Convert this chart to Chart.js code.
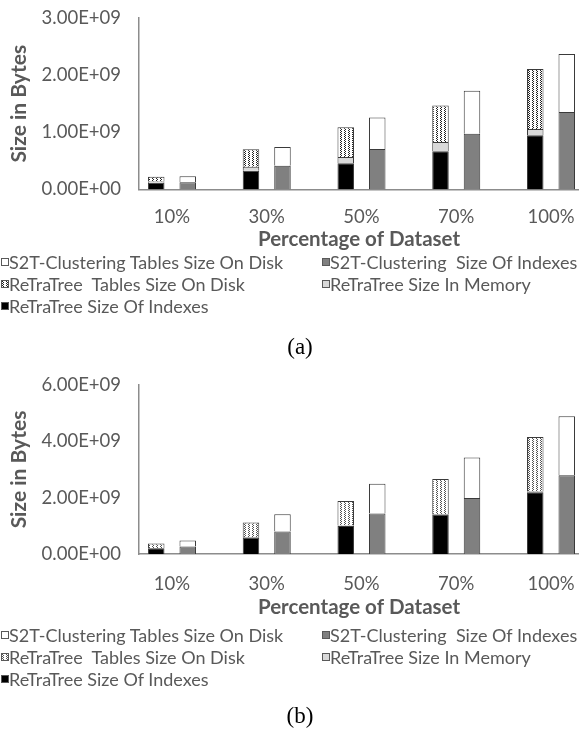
<!DOCTYPE html>
<html lang="en">
<head>
<meta charset="UTF-8">
<title>Size in Bytes</title>
<script src="https://cdn.jsdelivr.net/npm/chart.js"></script>
<style>
  body { margin: 0; background: #fff; }
  .page { position: relative; width: 579px; height: 735px; overflow: hidden; font-family: Lato, 'Open Sans', sans-serif; color: #595959; }
  canvas { position: absolute; left: 0; }
  .legend { position: absolute; left: 0; width: 579px; height: 70px; font-size: 18px; }
  .item { position: absolute; height: 22px; line-height: 22px; white-space: pre; }
  .box { position: absolute; left: 0; top: 7px; width: 6px; height: 6px; border: 1px solid #595959; }
  .txt { position: absolute; left: 8px; top: 0; }
  .caption { position: absolute; left: 0; width: 600px; text-align: center; font-family: 'Liberation Serif', 'DejaVu Serif', serif; font-size: 23px; color: #000; }
</style>
</head>
<body>
<div class="page">
  <canvas id="chartA" width="579" height="252" style="top:0"></canvas>
  <div class="legend" id="legendA" style="top:251px"></div>
  <div class="caption" style="top:334px">(a)</div>
  <canvas id="chartB" width="579" height="250" style="top:370px"></canvas>
  <div class="legend" id="legendB" style="top:624px"></div>
  <div class="caption" style="top:703px">(b)</div>
</div>
<script>
// categories and series (bytes)
const categories = ['10%', '30%', '50%', '70%', '100%'];
const labelS2TTables = 'S2T-Clustering Tables Size On Disk';
const labelS2TIndexes = 'S2T-Clustering  Size Of Indexes';
const labelReTraTables = 'ReTraTree  Tables Size On Disk';
const labelReTraMemory = 'ReTraTree Size In Memory';
const labelReTraIndexes = 'ReTraTree Size Of Indexes';

// chart (a)
const reTraIndexesA = [1.2e8, 3.3e8, 4.57e8, 6.7e8, 9.5e8];
const reTraMemoryA  = [0.2e8, 0.7e8, 1.1e8, 1.6e8, 1.1e8];
const reTraTablesA  = [0.85e8, 3.05e8, 5.23e8, 6.38e8, 10.5e8];
const s2tIndexesA   = [1.27e8, 4.16e8, 7.1e8, 9.76e8, 13.57e8];
const s2tTablesA    = [1.03e8, 3.29e8, 5.5e8, 7.52e8, 10.13e8];

// chart (b)
const reTraIndexesB = [2.0e8, 5.8e8, 9.9e8, 13.9e8, 21.9e8];
const reTraMemoryB  = [0.1e8, 0.2e8, 0.2e8, 0.3e8, 0.3e8];
const reTraTablesB  = [1.6e8, 5.2e8, 8.7e8, 12.4e8, 19.3e8];
const s2tIndexesB   = [2.7e8, 8.0e8, 14.4e8, 19.9e8, 28.0e8];
const s2tTablesB    = [2.1e8, 6.1e8, 10.5e8, 14.4e8, 20.9e8];

const grey = '#595959';
const fontFamily = "Lato, 'Open Sans', sans-serif";

function dotTile(dark) {
  const c = document.createElement('canvas');
  c.width = 4; c.height = 2;
  const g = c.getContext('2d');
  g.fillStyle = '#fff';
  g.fillRect(0, 0, 4, 2);
  g.fillStyle = dark;
  g.fillRect(0, 0, 1, 1);
  g.fillRect(1, 1, 1, 1);
  return c;
}

function sci(v) {
  if (v === 0) return '0.00E+00';
  const e = Math.floor(Math.log10(v) + 1e-9);
  const m = v / Math.pow(10, e);
  return m.toFixed(2) + 'E+' + String(e).padStart(2, '0');
}

function series(label, values, fill, stack) {
  return {
    label: label,
    data: values.map((v, i) => ({ x: i, y: v })),
    backgroundColor: fill,
    borderColor: '#3a3a3a',
    borderWidth: 1,
    stack: stack,
    categoryPercentage: 0.665,
    barPercentage: 0.524
  };
}

function drawChart(id, legendId, vals, yMax, yStep, top, xHeight, tickPad, dark) {
  const canvas = document.getElementById(id);
  const tile = dotTile(dark);
  const dots = canvas.getContext('2d').createPattern(tile, 'repeat');

  const sets = [
    series(labelReTraIndexes, vals.rIdx, '#000000', 'r'),
    series(labelReTraMemory, vals.rMem, '#d9d9d9', 'r'),
    series(labelReTraTables, vals.rTab, dots, 'r'),
    series(labelS2TIndexes, vals.sIdx, '#808080', 's'),
    series(labelS2TTables, vals.sTab, '#ffffff', 's')
  ];

  new Chart(canvas, {
    type: 'bar',
    data: { datasets: sets },
    options: {
      responsive: false,
      animation: false,
      layout: { padding: { left: 0, right: 0, top: top, bottom: 0 } },
      plugins: { legend: { display: false }, tooltip: { enabled: false } },
      scales: {
        x: {
          type: 'linear',
          min: -0.348,
          max: 4.2955,
          offset: false,
          grid: { display: false, drawTicks: false },
          border: { color: '#8c8c8c', width: 1.5 },
          afterBuildTicks: s => { s.ticks = categories.map((c, i) => ({ value: i })); },
          afterFit: s => { s.height = xHeight; s.paddingLeft = 0; s.paddingRight = 0; },
          ticks: { padding: tickPad, color: grey, maxRotation: 0, autoSkip: false,
                   font: { family: fontFamily, size: 18.5 }, callback: v => categories[v] },
          title: { display: true, text: 'Percentage of Dataset', color: grey, padding: 0,
                   font: { family: fontFamily, size: 20.5, weight: 'bold' } }
        },
        y: {
          stacked: true,
          min: 0,
          max: yMax,
          grid: { display: false, drawTicks: false },
          border: { color: '#8c8c8c', width: 1.5 },
          afterFit: s => { s.width = 139; s.paddingTop = 0; s.paddingBottom = 0; },
          ticks: { stepSize: yStep, padding: 18, color: grey,
                   font: { family: fontFamily, size: 18.5 }, callback: sci },
          title: { display: true, text: 'Size in Bytes', color: grey, padding: { top: 7, bottom: 0 },
                   font: { family: fontFamily, size: 21, weight: 'bold' } }
        }
      }
    }
  });

  // legend in two columns, same order as the original
  const order = [sets[4], sets[3], sets[2], sets[1], sets[0]];
  const legend = document.getElementById(legendId);
  order.forEach((ds, i) => {
    const item = document.createElement('div');
    item.className = 'item';
    item.style.left = (i % 2 === 0 ? 1 : 322) + 'px';
    item.style.top = (Math.floor(i / 2) * 22) + 'px';
    const box = document.createElement('div');
    box.className = 'box';
    if (typeof ds.backgroundColor === 'string') box.style.background = ds.backgroundColor;
    else box.style.backgroundImage = 'url(' + tile.toDataURL() + ')';
    const txt = document.createElement('span');
    txt.className = 'txt';
    txt.textContent = ds.label;
    item.appendChild(box);
    item.appendChild(txt);
    legend.appendChild(item);
  });
}

drawChart('chartA', 'legendA',
  { rIdx: reTraIndexesA, rMem: reTraMemoryA, rTab: reTraTablesA, sIdx: s2tIndexesA, sTab: s2tTablesA },
  3e9, 1e9, 18, 62.5, 16, '#222222');
drawChart('chartB', 'legendB',
  { rIdx: reTraIndexesB, rMem: reTraMemoryB, rTab: reTraTablesB, sIdx: s2tIndexesB, sTab: s2tTablesB },
  6e9, 2e9, 15, 66, 19, '#555555');
</script>
</body>
</html>
